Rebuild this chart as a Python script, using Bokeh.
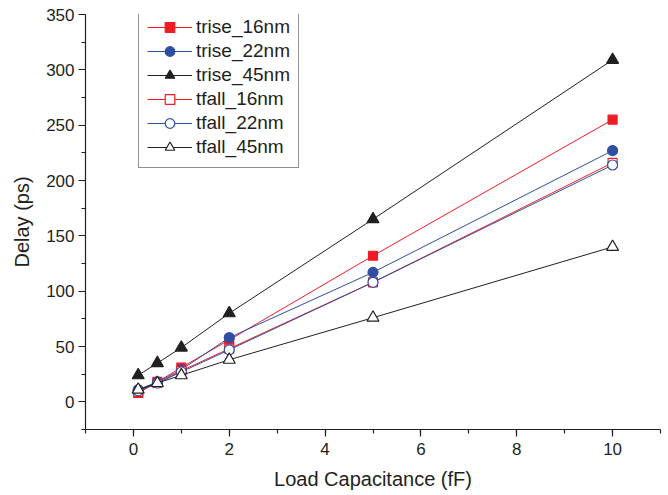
from bokeh.plotting import figure
from bokeh.models import SingleIntervalTicker, Legend, LegendItem, Range1d
from bokeh.embed import file_html
from bokeh.resources import INLINE

# Data
load_cap = [0.1, 0.5, 1, 2, 5, 10]
trise_16nm = [8, 18, 31, 56, 132, 255]
trise_22nm = [11, 18, 29, 58, 117, 227]
trise_45nm = [24, 35, 49, 80, 165, 309]
tfall_16nm = [9, 17, 28, 48, 108, 216]
tfall_22nm = [10, 17, 27, 47, 108, 214]
tfall_45nm = [11, 17, 24, 38, 76, 140]
series_names = ["trise_16nm", "trise_22nm", "trise_45nm", "tfall_16nm", "tfall_22nm", "tfall_45nm"]

RED = "#EE1C25"
BLUE = "#2F4FA2"
BLACK = "#231F20"
FONT = "Liberation Sans"

p = figure(width=668, height=495, output_backend="svg", toolbar_location=None,
           x_range=Range1d(-1, 11), y_range=Range1d(-25, 350),
           min_border_left=85, min_border_right=8, min_border_top=14, min_border_bottom=66)
p.outline_line_color = None
p.xgrid.visible = False
p.ygrid.visible = False
p.background_fill_color = "white"
p.border_fill_color = "white"

styles = [
    (trise_16nm, RED, "square", RED, 9),
    (trise_22nm, BLUE, "circle", BLUE, 10),
    (trise_45nm, BLACK, "triangle", BLACK, 12),
    (tfall_16nm, RED, "square", "white", 9),
    (tfall_22nm, BLUE, "circle", "white", 10),
    (tfall_45nm, BLACK, "triangle", "white", 12),
]

items = []
for name, (vals, col, mk, fill, sz) in zip(series_names, styles):
    r1 = p.line(load_cap, vals, line_color=col, line_width=1)
    r2 = p.scatter(load_cap, vals, marker=mk, size=sz, line_color=col, fill_color=fill, line_width=1.2)
    items.append(LegendItem(label=name, renderers=[r1, r2]))

legend = Legend(items=items, location=(53, 261))
legend.label_text_font = FONT
legend.label_text_font_size = "19px"
legend.label_text_color = BLACK
legend.label_height = 24
legend.glyph_height = 24
legend.glyph_width = 45
legend.spacing = 0
legend.padding = 8
legend.margin = 0
legend.label_standoff = 4
legend.border_line_color = BLACK
legend.border_line_width = 1
legend.background_fill_color = "white"
legend.background_fill_alpha = 1
p.add_layout(legend)

p.xaxis.ticker = SingleIntervalTicker(interval=2, num_minor_ticks=2)
p.yaxis.ticker = SingleIntervalTicker(interval=50, num_minor_ticks=2)

for ax in (p.xaxis[0], p.yaxis[0]):
    ax.axis_line_color = BLACK
    ax.axis_line_width = 1.2
    ax.major_tick_line_color = BLACK
    ax.minor_tick_line_color = BLACK
    ax.major_tick_line_width = 1.2
    ax.minor_tick_line_width = 1.2
    ax.major_tick_in = 0
    ax.minor_tick_in = 0
    ax.major_tick_out = 7
    ax.minor_tick_out = 4
    ax.major_label_text_font = FONT
    ax.major_label_text_font_size = "17px"
    ax.major_label_text_color = BLACK
    ax.axis_label_text_font = FONT
    ax.axis_label_text_font_size = "20px"
    ax.axis_label_text_font_style = "normal"
    ax.axis_label_text_color = BLACK

p.xaxis.axis_label = "Load Capacitance (fF)"
p.yaxis.axis_label = "Delay (ps)"
p.xaxis.major_label_standoff = 6
p.yaxis.major_label_standoff = 4
p.xaxis.axis_label_standoff = 10
p.yaxis.axis_label_standoff = 10

open("out.html", "w").write(file_html(p, INLINE))
